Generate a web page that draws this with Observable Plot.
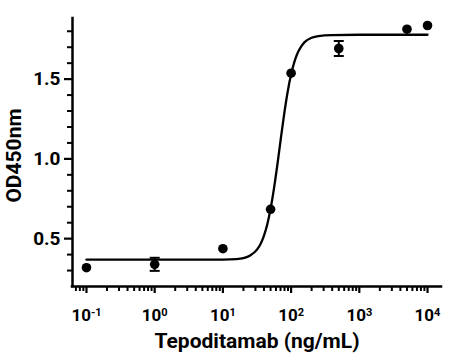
<!DOCTYPE html>
<html>
<head>
<meta charset="utf-8">
<script src="https://cdn.jsdelivr.net/npm/d3@7"></script>
<script src="https://cdn.jsdelivr.net/npm/@observablehq/plot@0.6"></script>
<style>
  html, body { margin: 0; padding: 0; background: #fff; }
</style>
</head>
<body>
<div id="chart"></div>
<script>
// Measured points (concentration in ng/mL, OD450nm, SD)
const conc = [0.1, 1, 10, 50, 100, 500, 5000, 10000];
const od   = [0.318, 0.339, 0.437, 0.684, 1.537, 1.692, 1.813, 1.836];
const sd   = [0, 0.041, 0, 0, 0, 0.047, 0, 0];

// Fitted curve
const curveX = [0.1, 1, 10, 15.8, 20, 25.1, 31.6, 35.5, 39.8, 44.7, 50.1, 56.2, 63.1, 70.8, 79.4, 89.1, 100, 112, 126, 141, 158, 200, 251, 398, 1000, 10000];
const curveY = [0.368, 0.368, 0.369, 0.372, 0.378, 0.394, 0.431, 0.465, 0.516, 0.589, 0.689, 0.817, 0.968, 1.130, 1.285, 1.421, 1.530, 1.610, 1.668, 1.706, 1.732, 1.759, 1.770, 1.776, 1.778, 1.778];

// Axis ticks
const xMajor = [0.1, 1, 10, 100, 1000, 10000];
const xMinor = [0.07, 0.08, 0.09,
  0.2, 0.3, 0.4, 0.5, 0.6, 0.7, 0.8, 0.9,
  2, 3, 4, 5, 6, 7, 8, 9,
  20, 30, 40, 50, 60, 70, 80, 90,
  200, 300, 400, 500, 600, 700, 800, 900,
  2000, 3000, 4000, 5000, 6000, 7000, 8000, 9000];
const yMajor = [0.5, 1.0, 1.5];
const yMinor = [0.3, 0.4, 0.6, 0.7, 0.8, 0.9, 1.1, 1.2, 1.3, 1.4, 1.6, 1.7, 1.8];
const xDomain = [0.0624, 16030];
const yDomain = [0.2, 1.88];

const points = conc.map((c, i) => ({x: c, y: od[i], lo: od[i] - sd[i], hi: od[i] + sd[i], sd: sd[i]}));
const errs = points.filter(d => d.sd > 0);
const curve = curveX.map((x, i) => ({x, y: curveY[i]}));

const capSymbol = {
  draw(context, size) {
    const r = Math.sqrt(size / Math.PI);
    context.moveTo(-r, 0);
    context.lineTo(r, 0);
  }
};

const svg = Plot.plot({
  width: 476,
  height: 362,
  marginLeft: 72,
  marginRight: 35,
  marginTop: 18,
  marginBottom: 76,
  style: {fontFamily: "Roboto, 'Liberation Sans', sans-serif", fontWeight: "bold", color: "#000", background: "#fff", overflow: "visible"},
  x: {type: "log", domain: xDomain},
  y: {domain: yDomain},
  marks: [
    Plot.axisX({ticks: xMinor, tickSize: 5, strokeWidth: 2, text: null, label: null}),
    Plot.axisX({ticks: xMajor, tickSize: 7, strokeWidth: 2.2, tickPadding: 15, fontSize: 17,
      tickFormat: d => "10^" + Math.round(Math.log10(d)), label: null}),
    Plot.axisY({ticks: yMinor, tickSize: 5, strokeWidth: 2, text: null, label: null}),
    Plot.axisY({ticks: yMajor, tickSize: 8, strokeWidth: 2.2, tickPadding: 4, fontSize: 19,
      tickFormat: d3.format(".1f"), label: null}),
    Plot.ruleY([yDomain[0]], {stroke: "#000", strokeWidth: 2.5, strokeLinecap: "square"}),
    Plot.ruleX([xDomain[0]], {stroke: "#000", strokeWidth: 2.5, strokeLinecap: "square"}),
    Plot.line(curve, {x: "x", y: "y", stroke: "#000", strokeWidth: 2.3, curve: "monotone-x"}),
    Plot.ruleX(errs, {x: "x", y1: "lo", y2: "hi", stroke: "#000", strokeWidth: 2}),
    Plot.dot(errs, {x: "x", y: "lo", symbol: capSymbol, r: 5, stroke: "#000", strokeWidth: 2}),
    Plot.dot(errs, {x: "x", y: "hi", symbol: capSymbol, r: 5, stroke: "#000", strokeWidth: 2}),
    Plot.dot(points, {x: "x", y: "y", r: 4.8, fill: "#000", stroke: "none"}),
    Plot.text(["Tepoditamab (ng/mL)"], {frameAnchor: "bottom", textAnchor: "middle", lineAnchor: "middle", dx: 0, dy: 55, fontSize: 21, fontWeight: "bold", fill: "#000"}),
    Plot.text(["OD450nm"], {frameAnchor: "left", textAnchor: "middle", lineAnchor: "middle", rotate: -90, dx: -58, dy: 3, fontSize: 21, fontWeight: "bold", fill: "#000"})
  ]
});

// Turn "10^n" tick labels into 10 with a superscript exponent
d3.select(svg).selectAll('g[aria-label="x-axis tick label"] text').each(function() {
  const t = this.textContent;
  if (!t.includes("^")) return;
  const [base, exp] = t.split("^");
  const sel = d3.select(this);
  sel.text(null);
  sel.append("tspan").text(base);
  sel.append("tspan").attr("dy", "-5").attr("font-size", "11px").text(exp);
});

document.getElementById("chart").appendChild(svg);
</script>
</body>
</html>
